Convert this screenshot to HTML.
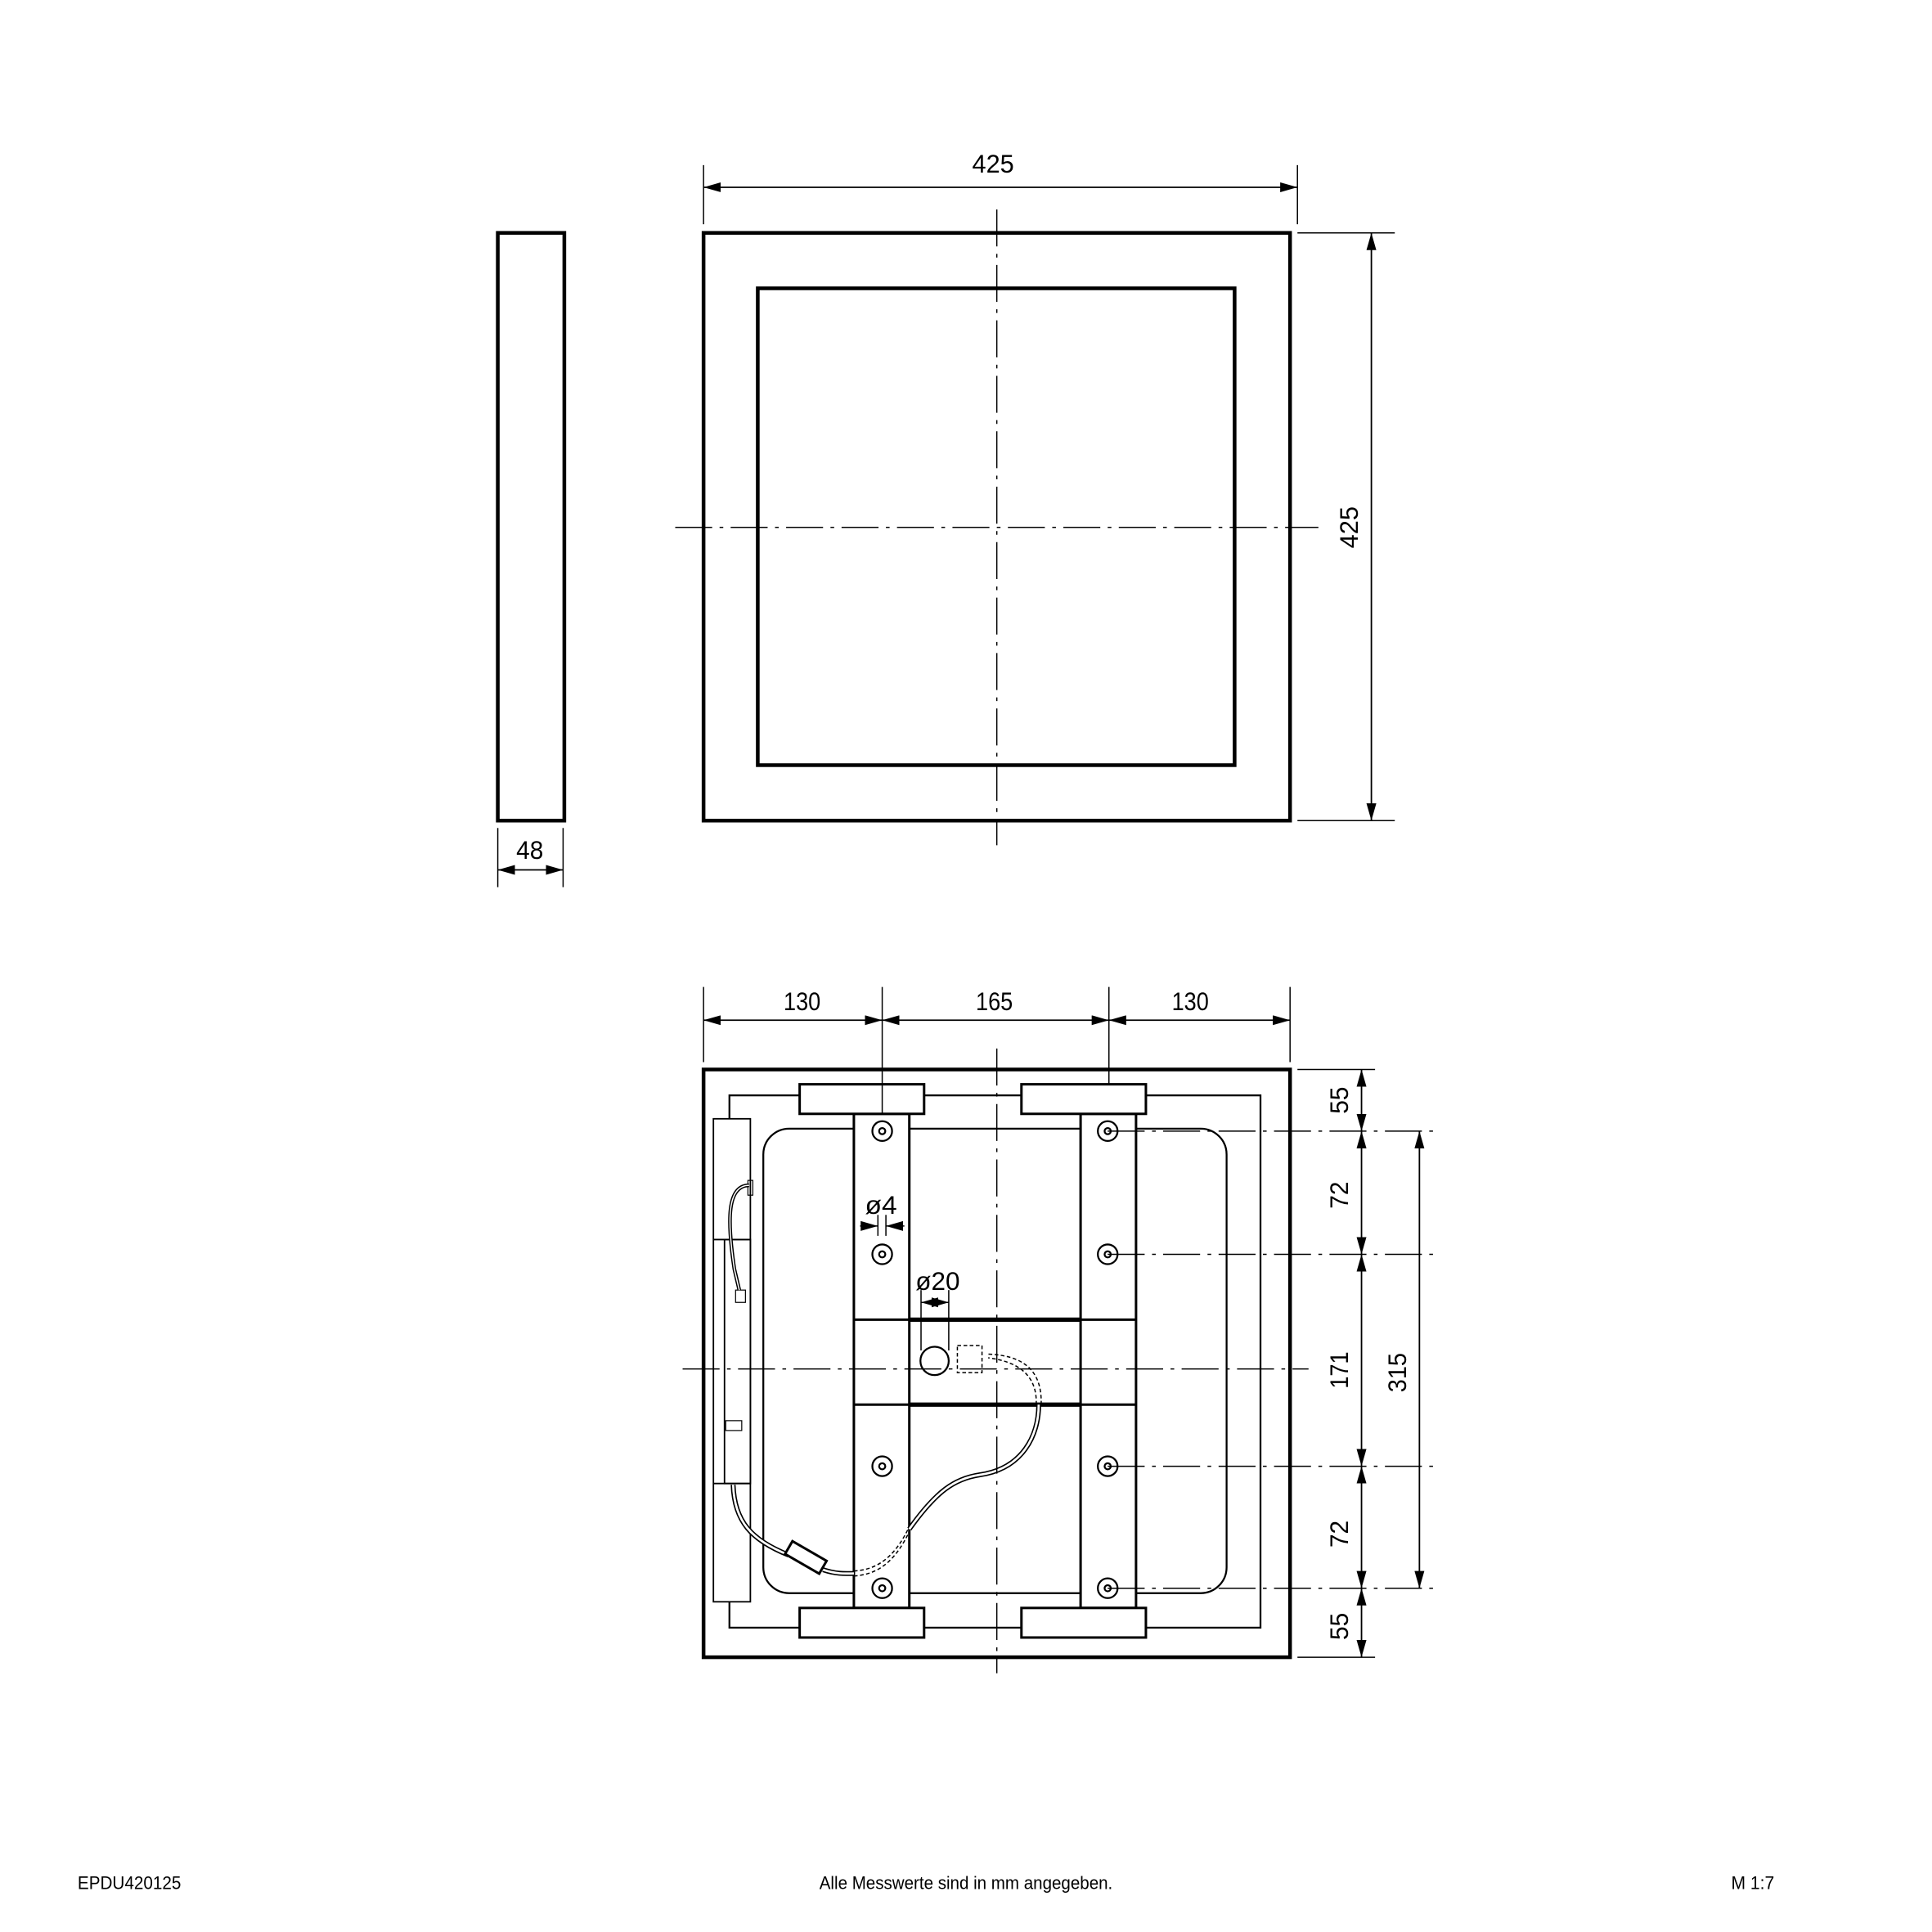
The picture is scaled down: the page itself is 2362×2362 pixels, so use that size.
<!DOCTYPE html>
<html><head><meta charset="utf-8"><style>
html,body{margin:0;padding:0;background:#fff}
svg{display:block}
text{font-family:"Liberation Sans",sans-serif;fill:#000}
</style></head><body>
<svg width="2362" height="2362" viewBox="0 0 1568 1568" xmlns="http://www.w3.org/2000/svg">
<defs>
<marker id="a" viewBox="0 0 14 8" refX="14" refY="4" markerWidth="14" markerHeight="8" markerUnits="userSpaceOnUse" orient="auto-start-reverse"><path d="M0,0 L14,4 L0,8 Z" fill="#000"/></marker>
</defs>
<g fill="none" stroke="#000">
<rect x="404" y="189" width="54" height="477" stroke-width="3"/>
<line x1="404" y1="672" x2="404" y2="720" stroke-width="1"/>
<line x1="457" y1="672" x2="457" y2="720" stroke-width="1"/>
<line x1="404" y1="706" x2="457" y2="706" stroke-width="1.2" marker-start="url(#a)" marker-end="url(#a)"/>
<rect x="571" y="189" width="476" height="477" stroke-width="3"/>
<rect x="615" y="234" width="387" height="387" stroke-width="3"/>
<line x1="809" y1="170" x2="809" y2="686" stroke-width="1" stroke-dasharray="30,6,3,6"/>
<line x1="548" y1="428" x2="1070" y2="428" stroke-width="1" stroke-dasharray="30,6,3,6"/>
<line x1="571" y1="134" x2="571" y2="182" stroke-width="1"/>
<line x1="1053" y1="134" x2="1053" y2="182" stroke-width="1"/>
<line x1="571" y1="152" x2="1053" y2="152" stroke-width="1.2" marker-start="url(#a)" marker-end="url(#a)"/>
<line x1="1053" y1="189" x2="1132" y2="189" stroke-width="1"/>
<line x1="1053" y1="666" x2="1132" y2="666" stroke-width="1"/>
<line x1="1113" y1="189" x2="1113" y2="666" stroke-width="1.2" marker-start="url(#a)" marker-end="url(#a)"/>

<rect x="571" y="868" width="476" height="477" stroke-width="3"/>
<rect x="592" y="889" width="431" height="432" stroke-width="1.5"/>
<rect x="619.5" y="916" width="376" height="377" rx="21" stroke-width="1.5"/>
<rect x="579" y="908" width="30" height="392" stroke-width="1.2" fill="#fff"/>
<line x1="579" y1="1006" x2="609" y2="1006" stroke-width="1.2"/>
<line x1="579" y1="1204" x2="609" y2="1204" stroke-width="1.2"/>
<rect x="588" y="1006" width="21" height="198" stroke-width="1.2"/>
<rect x="597" y="1047" width="8" height="10" stroke-width="0.8"/>
<rect x="589" y="1153" width="13" height="8" stroke-width="0.8"/>
<rect x="607" y="958" width="4" height="12" stroke-width="0.8"/>
<path d="M608,962 C590,962 590,990 596,1030 L600,1047" stroke-width="3"/>
<path d="M608,962 C590,962 590,990 596,1030 L600,1047" stroke="#fff" stroke-width="1"/>
<rect x="693" y="904" width="45" height="401" stroke-width="2" fill="#fff"/>
<rect x="877" y="904" width="45" height="401" stroke-width="2" fill="#fff"/>
<line x1="693" y1="1071" x2="922" y2="1071" stroke-width="2"/>
<line x1="693" y1="1140" x2="922" y2="1140" stroke-width="2"/>
<line x1="738" y1="1071" x2="877" y2="1071" stroke-width="3.5"/>
<line x1="738" y1="1140" x2="877" y2="1140" stroke-width="3.5"/>
<rect x="649" y="880" width="101" height="24" stroke-width="2" fill="#fff"/>
<rect x="829" y="880" width="101" height="24" stroke-width="2" fill="#fff"/>
<rect x="649" y="1305" width="101" height="24" stroke-width="2" fill="#fff"/>
<rect x="829" y="1305" width="101" height="24" stroke-width="2" fill="#fff"/>
<g stroke-width="1.5">
<circle cx="716" cy="918" r="8"/><circle cx="716" cy="918" r="2.5"/>
<circle cx="716" cy="1018" r="8"/><circle cx="716" cy="1018" r="2.5"/>
<circle cx="716" cy="1190" r="8"/><circle cx="716" cy="1190" r="2.5"/>
<circle cx="716" cy="1289" r="8"/><circle cx="716" cy="1289" r="2.5"/>
<circle cx="899" cy="918" r="8"/><circle cx="899" cy="918" r="2.5"/>
<circle cx="899" cy="1018" r="8"/><circle cx="899" cy="1018" r="2.5"/>
<circle cx="899" cy="1190" r="8"/><circle cx="899" cy="1190" r="2.5"/>
<circle cx="899" cy="1289" r="8"/><circle cx="899" cy="1289" r="2.5"/>
</g>
<circle cx="758.5" cy="1104.5" r="11.5" stroke-width="1.5"/>
<rect x="777" y="1092" width="20" height="22" stroke-width="1" stroke-dasharray="3,2"/>
<path d="M595,1205 C596,1235 610,1250 640,1262" stroke-width="4"/>
<path d="M595,1205 C596,1235 610,1250 640,1262" stroke="#fff" stroke-width="1.8"/>
<path d="M668,1274 C680,1278 688,1277 693,1277" stroke-width="4"/>
<path d="M668,1274 C680,1278 688,1277 693,1277" stroke="#fff" stroke-width="1.8"/>
<rect x="638" y="1258" width="32" height="12" transform="rotate(30 654 1264)" stroke-width="2" fill="#fff"/>
<path d="M693,1277 C715,1276 728,1262 738,1241" stroke-width="1" stroke-dasharray="3,2" transform="translate(0,-2)"/>
<path d="M693,1277 C715,1276 728,1262 738,1241" stroke-width="1" stroke-dasharray="3,2" transform="translate(0,2)"/>
<path d="M738,1241 C760,1210 775,1200 795,1197 C830,1192 843,1165 843,1140" stroke-width="4"/>
<path d="M738,1241 C760,1210 775,1200 795,1197 C830,1192 843,1165 843,1140" stroke="#fff" stroke-width="1.8"/>
<path d="M841,1140 C842,1115 825,1105 802,1102" stroke-width="1" stroke-dasharray="3,2"/>
<path d="M845,1140 C846,1110 828,1100 802,1099" stroke-width="1" stroke-dasharray="3,2"/>
<line x1="809" y1="851" x2="809" y2="1358" stroke-width="1" stroke-dasharray="30,6,3,6"/>
<line x1="554" y1="1111" x2="1062" y2="1111" stroke-width="1" stroke-dasharray="30,6,3,6"/>
<g stroke-width="1" stroke-dasharray="30,6,3,6">
<line x1="899" y1="918" x2="1166" y2="918"/>
<line x1="899" y1="1018" x2="1166" y2="1018"/>
<line x1="899" y1="1190" x2="1166" y2="1190"/>
<line x1="899" y1="1289" x2="1166" y2="1289"/>
</g>
<g stroke-width="1">
<line x1="571" y1="801" x2="571" y2="862"/>
<line x1="716" y1="801" x2="716" y2="904"/>
<line x1="900" y1="801" x2="900" y2="880"/>
<line x1="1047" y1="801" x2="1047" y2="862"/>
<line x1="1053" y1="868" x2="1116" y2="868"/>
<line x1="1053" y1="1345" x2="1116" y2="1345"/>
</g>
<g stroke-width="1.2">
<line x1="571" y1="828" x2="716" y2="828" marker-start="url(#a)" marker-end="url(#a)"/>
<line x1="716" y1="828" x2="900" y2="828" marker-start="url(#a)" marker-end="url(#a)"/>
<line x1="900" y1="828" x2="1047" y2="828" marker-start="url(#a)" marker-end="url(#a)"/>
<line x1="1105" y1="868" x2="1105" y2="918" marker-start="url(#a)" marker-end="url(#a)"/>
<line x1="1105" y1="918" x2="1105" y2="1018" marker-start="url(#a)" marker-end="url(#a)"/>
<line x1="1105" y1="1018" x2="1105" y2="1190" marker-start="url(#a)" marker-end="url(#a)"/>
<line x1="1105" y1="1190" x2="1105" y2="1289" marker-start="url(#a)" marker-end="url(#a)"/>
<line x1="1105" y1="1289" x2="1105" y2="1345" marker-start="url(#a)" marker-end="url(#a)"/>
<line x1="1152" y1="918" x2="1152" y2="1289" marker-start="url(#a)" marker-end="url(#a)"/>
</g>
<g stroke-width="1">
<line x1="712.5" y1="986" x2="712.5" y2="1003"/>
<line x1="719" y1="986" x2="719" y2="1003"/>
<line x1="698" y1="995" x2="712.5" y2="995" marker-end="url(#a)"/>
<line x1="734" y1="995" x2="719" y2="995" marker-end="url(#a)"/>
<line x1="747.5" y1="1047" x2="747.5" y2="1096"/>
<line x1="770" y1="1047" x2="770" y2="1096"/>
<line x1="747.5" y1="1057" x2="770" y2="1057" marker-start="url(#a)" marker-end="url(#a)"/>
</g>
</g>
<g font-size="21" text-anchor="middle">
<text x="806" y="140" textLength="34" lengthAdjust="spacingAndGlyphs">425</text>
<text x="430" y="697" textLength="22" lengthAdjust="spacingAndGlyphs">48</text>
<text transform="translate(1102,428) rotate(-90)" textLength="34" lengthAdjust="spacingAndGlyphs">425</text>
<text x="651" y="820" textLength="30" lengthAdjust="spacingAndGlyphs">130</text>
<text x="807" y="820" textLength="30" lengthAdjust="spacingAndGlyphs">165</text>
<text x="966" y="820" textLength="30" lengthAdjust="spacingAndGlyphs">130</text>
<text transform="translate(1094,893) rotate(-90)" textLength="22" lengthAdjust="spacingAndGlyphs">55</text>
<text transform="translate(1094,970) rotate(-90)" textLength="22" lengthAdjust="spacingAndGlyphs">72</text>
<text transform="translate(1094,1112) rotate(-90)" textLength="30" lengthAdjust="spacingAndGlyphs">171</text>
<text transform="translate(1094,1245) rotate(-90)" textLength="22" lengthAdjust="spacingAndGlyphs">72</text>
<text transform="translate(1094,1320) rotate(-90)" textLength="22" lengthAdjust="spacingAndGlyphs">55</text>
<text transform="translate(1141,1114) rotate(-90)" textLength="32" lengthAdjust="spacingAndGlyphs">315</text>
<text x="715" y="985" textLength="26" lengthAdjust="spacingAndGlyphs">ø4</text>
<text x="761" y="1047" textLength="36" lengthAdjust="spacingAndGlyphs">ø20</text>
</g>
<g font-size="15">
<text x="63" y="1533" textLength="84" lengthAdjust="spacingAndGlyphs">EPDU420125</text>
<text x="665" y="1533" textLength="238" lengthAdjust="spacingAndGlyphs">Alle Messwerte sind in mm angegeben.</text>
<text x="1405" y="1533" textLength="35" lengthAdjust="spacingAndGlyphs">M 1:7</text>
</g>
</svg>
</body></html>
